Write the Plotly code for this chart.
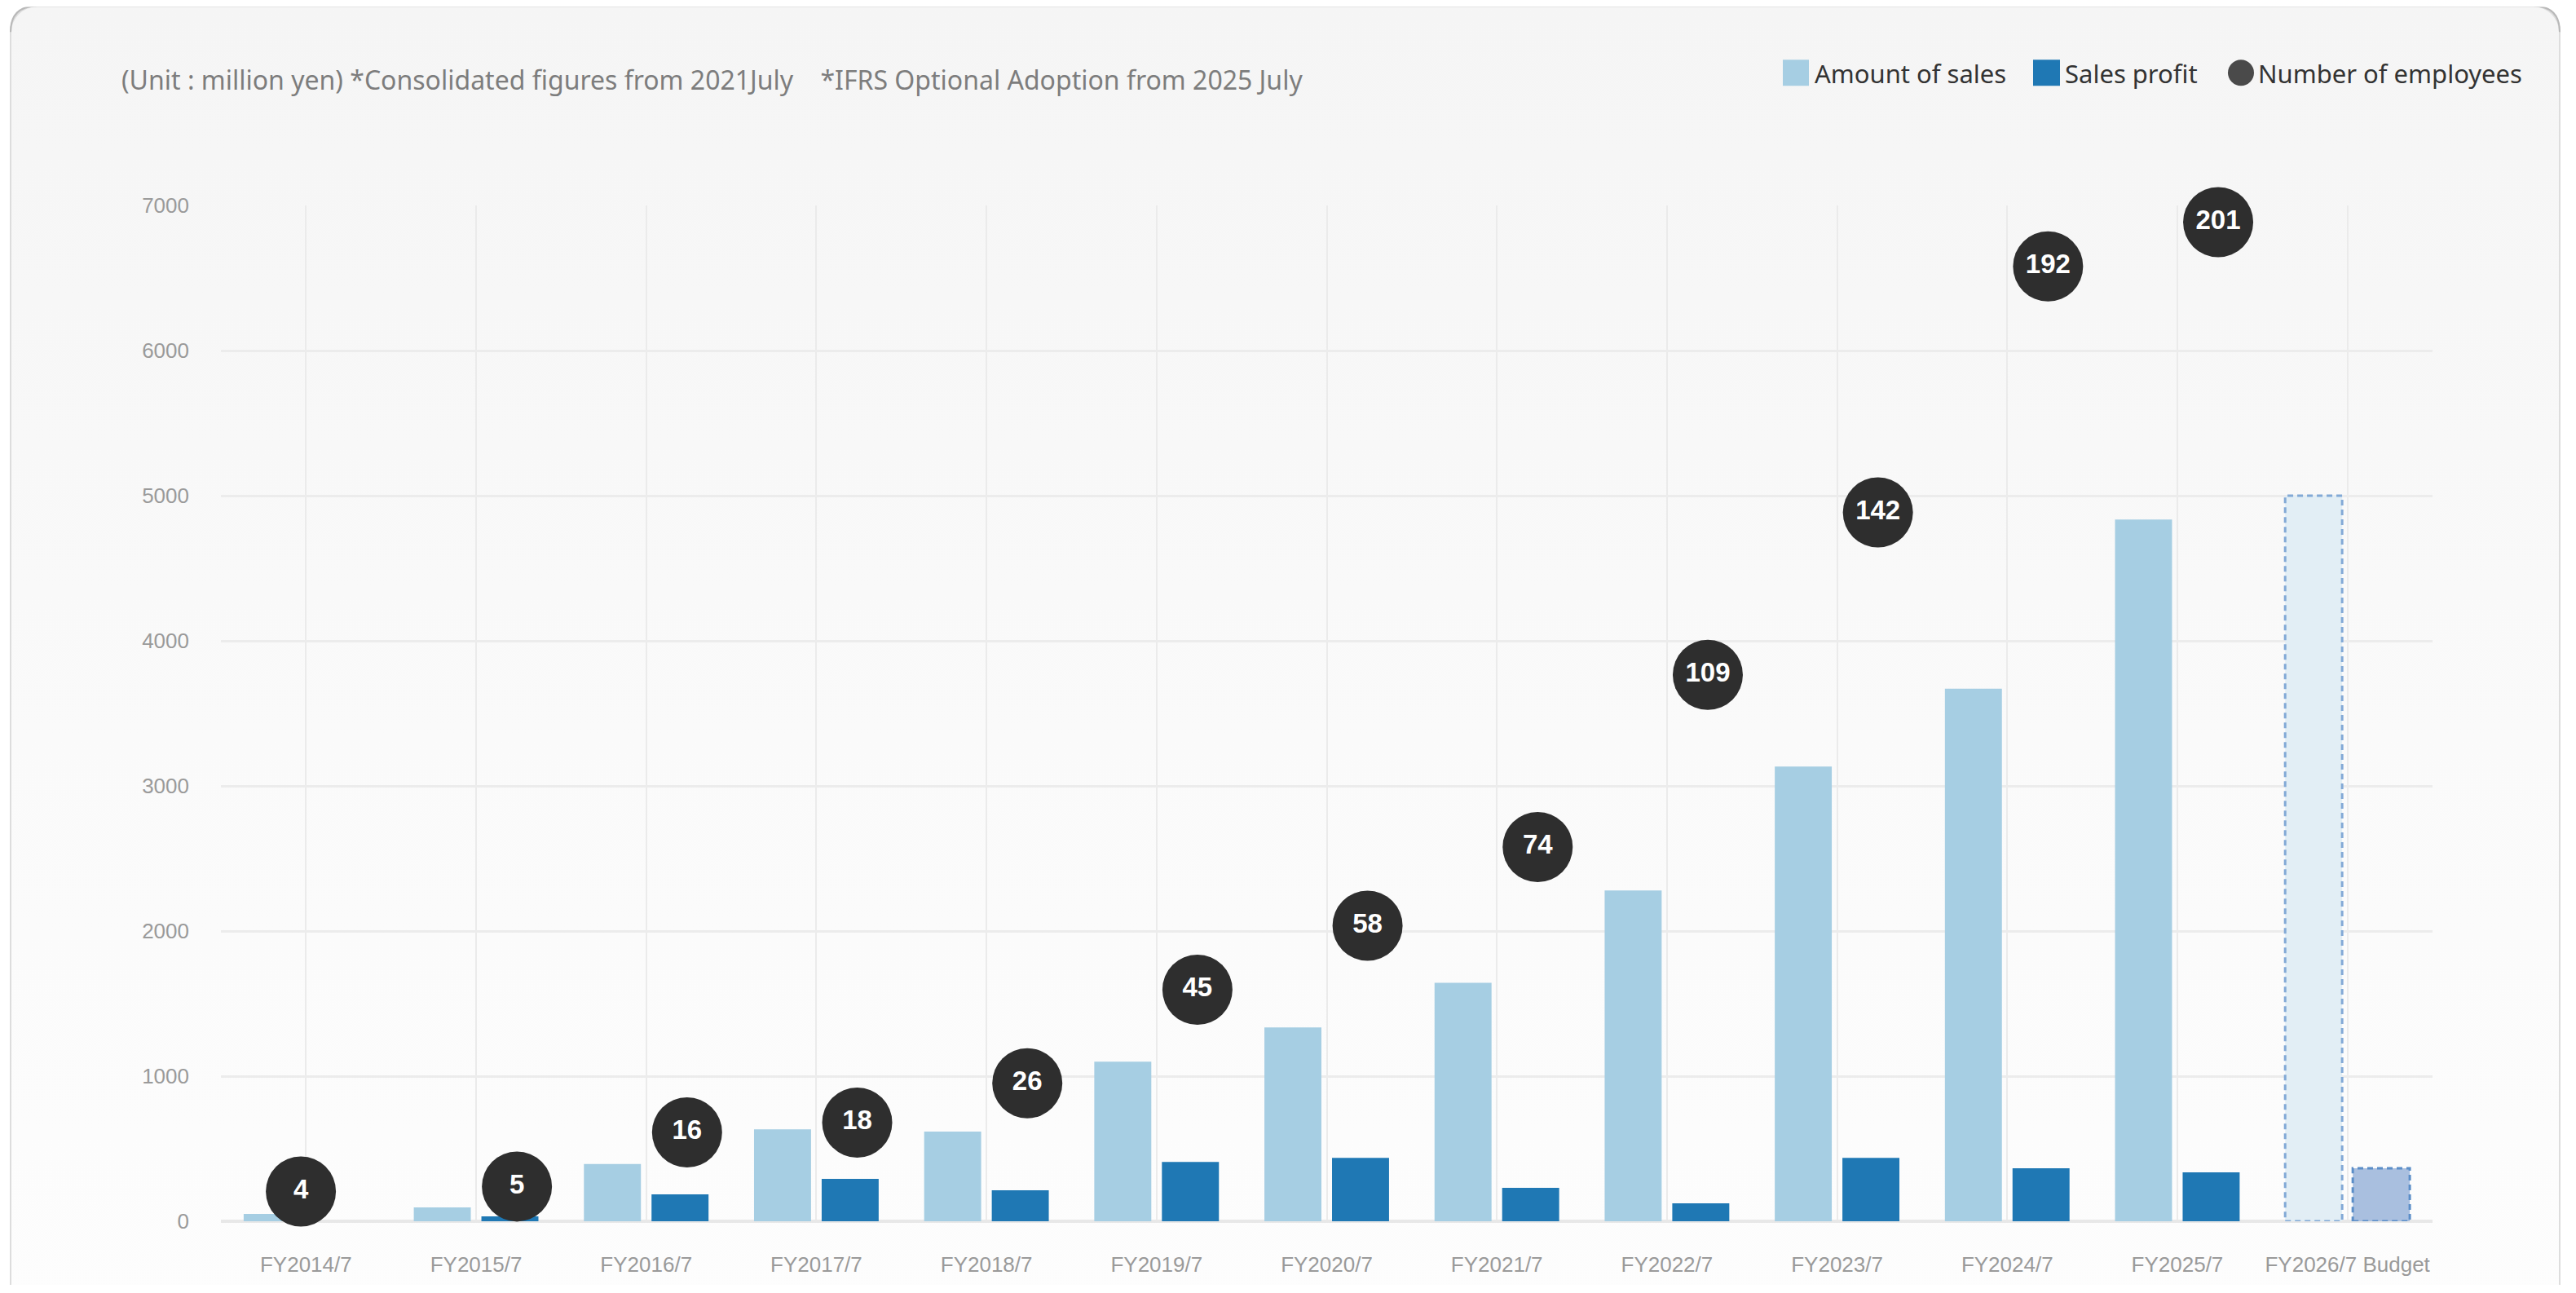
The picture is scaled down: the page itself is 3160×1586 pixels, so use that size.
import base64
import plotly.graph_objects as go

# ---------------- data ----------------
categories = ["FY2014/7", "FY2015/7", "FY2016/7", "FY2017/7", "FY2018/7", "FY2019/7",
              "FY2020/7", "FY2021/7", "FY2022/7", "FY2023/7", "FY2024/7", "FY2025/7",
              "FY2026/7 Budget"]
sales = [50, 95, 394, 634, 618, 1100, 1336, 1643, 2280, 3133, 3670, 4836, 5000]
profit = [None, 34, 185, 292, 213, 409, 437, 230, 123, 437, 365, 337, 365]
employees = [4, 5, 16, 18, 26, 45, 58, 74, 109, 142, 192, 201]
y_ticks = [0, 1000, 2000, 3000, 4000, 5000, 6000, 7000]

subtitle = ("(Unit : million yen) *Consolidated figures from 2021July"
            "\u00a0\u00a0\u00a0\u00a0*IFRS Optional Adoption from 2025 July")
legend_names = ["Amount of sales", "Sales profit", "Number of employees"]

# ---------------- styling / layout ----------------
OFF = 8                      # page body margin
W, H = 3160 - 2 * OFF, 1586 - 2 * OFF
PL, PR, PT, PB = 271 - OFF, 2984 - OFF, 252 - OFF, 1500 - OFF   # plot area (figure px)
pw, ph = PR - PL, PB - PT

C_SALES, C_PROFIT = "#a6cee3", "#1f78b4"
C_SALES_B, C_PROFIT_B = "#e2eef5", "#a9bfdf"
C_EMP = "#2e2e2e"
BARGAP, GROUPGAP = 0.205, 0.157
EMP_OFFSET = 0.24


def px_x(p):            # window pixel -> paper x
    return (p - OFF - PL) / pw


def px_y(p):            # window pixel -> paper y
    return (PB - (p - OFF)) / ph


idx = list(range(len(categories)))
is_budget = [c.endswith("Budget") for c in categories]

fig = go.Figure()

fig.add_trace(go.Bar(
    x=idx, y=sales, name=legend_names[0], showlegend=False,
    marker=dict(color=[C_SALES_B if b else C_SALES for b in is_budget], line=dict(width=0)),
    hoverinfo="skip",
))
fig.add_trace(go.Bar(
    x=idx, y=profit, name=legend_names[1], showlegend=False,
    marker=dict(color=[C_PROFIT_B if b else C_PROFIT for b in is_budget], line=dict(width=0)),
    hoverinfo="skip",
))

emp_x = [i + (EMP_OFFSET if profit[i] is not None else -0.03) for i in range(len(employees))]
fig.add_trace(go.Scatter(
    x=emp_x, y=employees, yaxis="y2", mode="markers+text", name=legend_names[2],
    showlegend=False, hoverinfo="skip", cliponaxis=False,
    marker=dict(size=86, color=C_EMP, line=dict(width=0)),
    text=[str(e) for e in employees], textposition="middle center",
    textfont=dict(family="Liberation Sans, Arial", size=33, color="white", weight="bold"),
))

# dashed outlines for budget bars (geometry of grouped bars)
slot = (1 - BARGAP) / 2
shapes = []
for i, b in enumerate(is_budget):
    if not b:
        continue
    for k, (vals, col) in enumerate([(sales, "#82a9d6"), (profit, "#5b8ec8")]):
        if vals[i] is None:
            continue
        x0 = i - (1 - BARGAP) / 2 + k * slot + slot * GROUPGAP / 2
        x1 = x0 + slot * (1 - GROUPGAP)
        shapes.append(dict(type="rect", xref="x", yref="y", x0=x0, x1=x1, y0=0, y1=vals[i],
                           line=dict(color=col, width=3, dash="7px,5px"),
                           fillcolor="rgba(0,0,0,0)", layer="above"))

# custom legend
leg_cy = 89
legend_items = [
    (2187, 2219, "rect", C_SALES, 2224),
    (2494, 2527, "rect", C_PROFIT, 2531),
    (2733, 2765, "circle", "#4a4a4a", 2768),
]
annotations = []
for (x0, x1, kind, col, tx), name in zip(legend_items, legend_names):
    shapes.append(dict(type=kind, xref="paper", yref="paper",
                       x0=px_x(x0), x1=px_x(x1), y0=px_y(leg_cy + 16), y1=px_y(leg_cy - 16),
                       fillcolor=col, line=dict(width=0), layer="above"))
    annotations.append(dict(xref="paper", yref="paper", x=px_x(tx), y=px_y(leg_cy + 1),
                            xanchor="left", yanchor="middle", showarrow=False, text=name,
                            font=dict(family="Noto Sans", size=31, color="#333333")))

annotations.append(dict(xref="paper", yref="paper", x=px_x(147), y=px_y(97),
                        xanchor="left", yanchor="middle", showarrow=False, text=subtitle,
                        font=dict(family="Noto Sans", size=32, color="#7d7d7d")))

# card background (rounded, vertical gradient) drawn in window pixel space
cx0, cy0, cx1 = 13 - OFF, 7 - OFF, 3140 - OFF
svg = (f'<svg xmlns="http://www.w3.org/2000/svg" width="{W}" height="{H}" viewBox="0 0 {W} {H}">'
       '<defs><linearGradient id="g" x1="0" y1="0" x2="0" y2="1">'
       '<stop offset="0" stop-color="#f5f5f5"/><stop offset="0.55" stop-color="#fafafa"/>'
       '<stop offset="1" stop-color="#fdfdfd"/></linearGradient></defs>'
       f'<rect x="{cx0}" y="{cy0}" width="{cx1 - cx0}" height="{H + 60}" rx="32" ry="32" '
       'fill="url(#g)" stroke="#dddddd" stroke-width="2"/>'
       f'<path d="M{cx0},{cy0 + 32} Q{cx0},{cy0} {cx0 + 32},{cy0} L{cx1 - 32},{cy0} '
       f'Q{cx1},{cy0} {cx1},{cy0 + 32}" fill="none" stroke="#b8b8b8" stroke-width="2"/>'
       '</svg>')
src = "data:image/svg+xml;base64," + base64.b64encode(svg.encode()).decode()

fig.update_layout(
    width=W, height=H,
    margin=dict(l=PL, r=W - PR, t=PT, b=H - PB, pad=0),
    paper_bgcolor="white", plot_bgcolor="rgba(0,0,0,0)",
    barmode="group", bargap=BARGAP, bargroupgap=GROUPGAP,
    showlegend=False,
    images=[dict(source=src, xref="paper", yref="paper", x=-PL / pw, y=1 + PT / ph,
                 sizex=W / pw, sizey=H / ph, xanchor="left", yanchor="top",
                 sizing="stretch", layer="below")],
    shapes=shapes, annotations=annotations,
    xaxis=dict(range=[-0.5, len(categories) - 0.5], tickmode="array", tickvals=idx,
               ticktext=categories, showgrid=True, gridcolor="#ebebeb", gridwidth=2,
               zeroline=False, showline=False, ticks="", ticklabelstandoff=35,
               tickfont=dict(family="Liberation Sans, Arial", size=26, color="#9a9a9a")),
    yaxis=dict(range=[0, 7000], tickmode="array", tickvals=y_ticks, showgrid=True,
               gridcolor="#ececec", gridwidth=3, zeroline=True, zerolinecolor="#e8e8e8",
               zerolinewidth=4, showline=False, ticks="", ticklabelstandoff=38,
               tickfont=dict(family="Liberation Sans, Arial", size=26, color="#9a9a9a")),
    yaxis2=dict(range=[-2.06, 204.4], overlaying="y", visible=False, showgrid=False),
)

fig.write_html("out.html")
